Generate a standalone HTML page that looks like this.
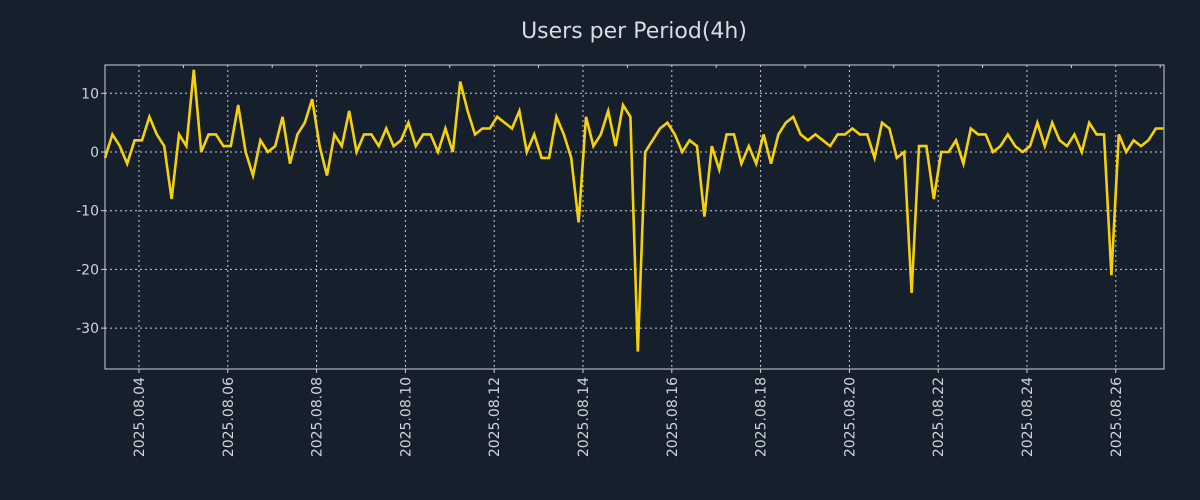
<!DOCTYPE html>
<html><head><meta charset="utf-8"><style>
html,body{margin:0;padding:0;background:#161f2c;}
svg{display:block;font-family:"DejaVu Sans","Liberation Sans",sans-serif;}
</style></head><body>
<svg id="chart" width="1200" height="500" viewBox="0 0 1200 500">
<rect x="0" y="0" width="1200" height="500" fill="#161f2c"/>
<text x="634" y="38" text-anchor="middle" font-size="22" fill="#d8dbe0">Users per Period(4h)</text>
<g id="grid"></g>
<g id="axes"></g>
<g id="series"></g>
</svg>
<script>
const values = [-1,3,1,-2,2,2,6,3,1,-8,3,1,14,0,3,3,1,1,8,0,-4,2,0,1,6,-2,3,5,9,1,-4,3,1,7,0,3,3,1,4,1,2,5,1,3,3,0,4,0,12,7,3,4,4,6,5,4,7,0,3,-1,-1,6,3,-1,-12,6,1,3,7,1,8,6,-34,0,2,4,5,3,0,2,1,-11,1,-3,3,3,-2,1,-2,3,-2,3,5,6,3,2,3,2,1,3,3,4,3,3,-1,5,4,-1,0,-24,1,1,-8,0,0,2,-2,4,3,3,0,1,3,1,0,1,5,1,5,2,1,3,0,5,3,3,-21,3,0,2,1,2,4,4];
const startHours = -18.4;
const stepHours = 4;
const yTicks = [10,0,-10,-20,-30];
const xTickDays = [0,2,4,6,8,10,12,14,16,18,20,22];
const xTickLabels = ["2025.08.04","2025.08.06","2025.08.08","2025.08.10","2025.08.12","2025.08.14","2025.08.16","2025.08.18","2025.08.20","2025.08.22","2025.08.24","2025.08.26"];

const L=105,R=1164,T=65,B=369;
const xDay = d => 139 + d*44.4;
const xHour = h => xDay(h/24);
const yS = v => 152 - v*5.87;
const NS="http://www.w3.org/2000/svg";
function mk(tag,attrs,parent){const e=document.createElementNS(NS,tag);for(const k in attrs)e.setAttribute(k,attrs[k]);parent.appendChild(e);return e;}
const grid=document.getElementById('grid'),axes=document.getElementById('axes'),series=document.getElementById('series');

yTicks.forEach(v=>{
  const y=yS(v);
  const g=mk('line',{x1:L,x2:R,y1:y,y2:y,stroke:'#c8ccd2','stroke-width':1,'stroke-dasharray':'2,3'},grid);
  
  
  const t=mk('line',{x1:L-4,x2:L,y1:y,y2:y,stroke:'#d0d0d0'},axes);
  
  
  const lb=mk('text',{x:L-6,y:y+5,'text-anchor':'end','font-size':14,fill:'#d0d3d8'},axes);
  lb.textContent=v;
  
  
});
xTickDays.forEach((d,i)=>{
  const x=xDay(d);
  const g=mk('line',{x1:x,x2:x,y1:T,y2:B,stroke:'#c8ccd2','stroke-width':1,'stroke-dasharray':'2,3'},grid);
  
  
  const t=mk('line',{x1:x,x2:x,y1:B,y2:B+4,stroke:'#d0d0d0'},axes);
  
  
  const lb=mk('text',{x:0,y:0,'text-anchor':'end','font-size':14,fill:'#d0d3d8',transform:`translate(${x+5},${B+8}) rotate(-90)`},axes);
  lb.textContent=xTickLabels[i];
  
  
});
for(let d=-1;d<=23;d++){ if(xTickDays.includes(d))continue; const x=xDay(d); if(x<L||x>R)continue;
  const t=mk('line',{x1:x,x2:x,y1:T,y2:T+3,stroke:'#d0d0d0'},axes);
  
  
}
const frame=mk('rect',{x:L,y:T,width:R-L,height:B-T,fill:'none',stroke:'#d0d3d8','stroke-width':1},axes);



const pts=values.map((v,i)=>xHour(startHours+i*stepHours).toFixed(1)+','+yS(v).toFixed(1)).join(' ');
const line=mk('polyline',{points:pts,fill:'none',stroke:'#f5d10a','stroke-width':2.6,'stroke-linejoin':'miter'},series);


</script>
</body></html>
